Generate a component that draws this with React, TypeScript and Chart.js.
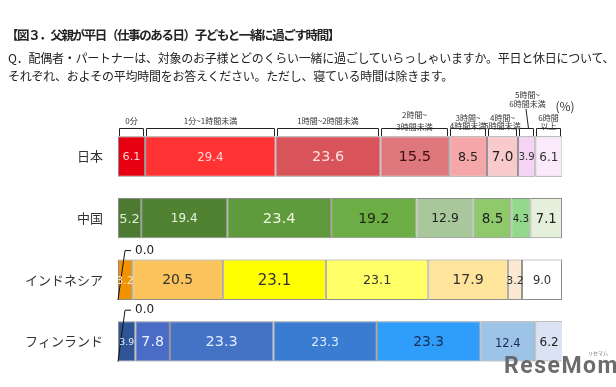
import React, { useEffect, useRef } from "react";
import { Chart, registerables } from "chart.js";
Chart.register(...registerables);

const countries = ["日本", "中国", "インドネシア", "フィンランド"];
const bandNames = ["0分", "1分~1時間未満", "1時間~2時間未満", "2時間~3時間未満", "3時間~4時間未満", "4時間~5時間未満", "5時間~6時間未満", "6時間以上"];
const band0 = [6.1, 5.2, 0.0, 0.0];
const band1 = [29.4, 19.4, 3.2, 3.9];
const band2 = [23.6, 23.4, 20.5, 7.8];
const band3 = [15.5, 19.2, 23.1, 23.3];
const band4 = [8.5, 12.9, 23.1, 23.3];
const band5 = [7.0, 8.5, 17.9, 23.3];
const band6 = [3.9, 4.3, 3.2, 12.4];
const band7 = [6.1, 7.1, 9.0, 6.2];
const bands = [band0, band1, band2, band3, band4, band5, band6, band7];

const headerLines = [["0分"], ["1分~1時間未満"], ["1時間~2時間未満"], ["2時間~", "3時間未満"], ["3時間~", "4時間未満"], ["4時間~", "5時間未満"], ["5時間~", "6時間未満"], ["6時間", "以上"]];

// styles: [country][band]
const fillColors = [
  ["#E60012", "#FF3333", "#D9545A", "#DF787D", "#F4A6A8", "#F8CACB", "#F5D3F3", "#FBEAFB"],
  ["#4B7A30", "#4F8332", "#5F9A3C", "#6CAE45", "#A8C89B", "#90C86C", "#93D88C", "#E4EFDC"],
  ["#F39200", "#F39200", "#FBC35B", "#FFFF00", "#FFFF66", "#FFE49C", "#FCE9D2", "#FFFFFF"],
  ["#2F5597", "#2F5597", "#4A6BC6", "#4472C4", "#3B7CD3", "#2E9EFA", "#9DC3E6", "#DAE3F3"],
];
const textColors = [
  ["#F8D0D0", "#FFD6D6", "#FFE0E0", "#3A1010", "#222", "#222", "#333", "#333"],
  ["#E0F0D0", "#E8F4E0", "#F0F8E0", "#1C2A10", "#222", "#222", "#222", "#222"],
  ["#333", "#FDE8C8", "#333", "#333", "#333", "#333", "#333", "#333"],
  ["#E0E8F8", "#E0E8F8", "#E8F0FF", "#E0ECFF", "#E0ECFF", "#1B2A50", "#1B2A50", "#222"],
];
const textSizes = [
  [11.3, 11.7, 14.4, 14.7, 12.6, 13.6, 10, 12],
  [13, 12, 14.7, 14, 12.4, 13.6, 10.3, 13.2],
  [11, 11, 13.9, 15, 12.7, 14.2, 11, 11.5],
  [9.4, 9.4, 14.2, 14.5, 12.4, 13.8, 11.5, 12],
];

const labelPlugin = {
  id: "customLabels",
  afterDatasetsDraw(chart: any) {
    const ctx = chart.ctx;
    ctx.save();
    chart.data.datasets.forEach((ds: any, i: number) => {
      const meta = chart.getDatasetMeta(i);
      meta.data.forEach((el: any, j: number) => {
        const v = ds.data[j];
        const p = el.getProps(["x", "y", "base", "height"], true);
        if (v > 0) {
          ctx.font = `${textSizes[j][i]}px "DejaVu Sans"`;
          ctx.fillStyle = textColors[j][i];
          ctx.textAlign = "center";
          ctx.textBaseline = "middle";
          const dy = j === 3 && i === 6 ? 3 : 1;
          ctx.fillText(v.toFixed(1), (p.x + p.base) / 2, p.y + dy);
        } else {
          const top = p.y - p.height / 2;
          const bottom = p.y + p.height / 2;
          const ty = top - 9 - (j === 3 ? 2 : 0);
          ctx.strokeStyle = "#111";
          ctx.lineWidth = 1;
          ctx.beginPath();
          ctx.moveTo(p.base + 13, ty);
          ctx.lineTo(p.base + 7, ty);
          ctx.lineTo(p.base, bottom);
          ctx.stroke();
          ctx.font = `12px "DejaVu Sans"`;
          ctx.fillStyle = "#222";
          ctx.textAlign = "left";
          ctx.textBaseline = "middle";
          ctx.fillText(v.toFixed(1), p.base + 17, ty);
        }
      });
    });
    // headers from the first category (日本)
    ctx.strokeStyle = "#222";
    ctx.lineWidth = 1;
    ctx.fillStyle = "#333";
    ctx.font = `8px "Noto Sans CJK JP"`;
    ctx.textAlign = "center";
    ctx.textBaseline = "middle";
    chart.data.datasets.forEach((ds: any, i: number) => {
      const el = chart.getDatasetMeta(i).data[0];
      const p = el.getProps(["x", "y", "base", "height"], true);
      const barTop = Math.round(p.y - p.height / 2);
      const x0 = Math.round(p.base) + 1.5;
      const x1 = Math.round(p.x) - 1.5;
      const bt = barTop - 7.5;
      ctx.beginPath();
      ctx.moveTo(x0, barTop);
      ctx.lineTo(x0, bt);
      ctx.lineTo(x1, bt);
      ctx.lineTo(x1, barTop);
      ctx.stroke();
      const cx = (x0 + x1) / 2;
      const lines = headerLines[i];
      if (lines.length === 1) {
        ctx.fillText(lines[0], cx, barTop - 15);
      } else if (i === 6) {
        ctx.fillText(lines[0], cx + 1, barTop - 41);
        ctx.fillText(lines[1], cx + 1, barTop - 32);
        ctx.beginPath();
        ctx.moveTo(cx - 0.5, barTop - 27);
        ctx.lineTo(cx + 2, bt);
        ctx.stroke();
      } else if (i === 3) {
        ctx.fillText(lines[0], cx, barTop - 21);
        ctx.fillText(lines[1], cx, barTop - 9.5);
      } else {
        ctx.fillText(lines[0], cx, barTop - 18.5);
        ctx.fillText(lines[1], cx, barTop - 10.5);
      }
    });
    ctx.font = `12px "Noto Sans CJK JP"`;
    ctx.fillStyle = "#333";
    ctx.fillText("(%)", 565, 106);
    // watermark
    ctx.font = `bold 23px Roboto`;
    ctx.fillStyle = "rgba(95,95,95,0.92)";
    ctx.textAlign = "left";
    ctx.textBaseline = "alphabetic";
    try { (ctx as any).letterSpacing = "1.5px"; } catch (e) {}
    ctx.fillText("ReseMom", 504, 373);
    try { (ctx as any).letterSpacing = "0px"; } catch (e) {}
    ctx.font = `5px "Noto Sans CJK JP"`;
    ctx.fillText("リセマム", 588, 355);
    ctx.restore();
  },
};

export default function App() {
  const ref = useRef<HTMLCanvasElement | null>(null);
  useEffect(() => {
    if (!ref.current) return;
    const datasets = bands.map((b, i) => ({
      label: bandNames[i],
      data: b,
      backgroundColor: fillColors.map((c) => c[i]),
      borderColor: "#8c8c8c",
      borderWidth: 1,
      borderSkipped: false,
      barPercentage: 0.655,
      categoryPercentage: 1.0,
    }));
    const chart = new Chart(ref.current, {
      type: "bar",
      data: { labels: countries, datasets },
      options: {
        indexAxis: "y",
        animation: false,
        responsive: false,
        maintainAspectRatio: false,
        layout: { padding: { top: 125.7, bottom: 10.5, right: 54, left: 0 } },
        plugins: { legend: { display: false }, tooltip: { enabled: false }, title: { display: false } },
        scales: {
          x: { stacked: true, min: 0, max: 100, display: false },
          y: {
            stacked: true,
            grid: { display: false },
            border: { display: false },
            ticks: { font: { family: '"Noto Sans CJK JP"', size: 13 }, color: "#333", padding: 7 },
            afterFit: (s: any) => {
              s.width = 118;
            },
          },
        },
      } as any,
      plugins: [labelPlugin],
    });
    return () => chart.destroy();
  }, []);
  return (
    <div style={{ position: "fixed", left: 0, top: 0, width: 616, height: 387, background: "#fff" }}>
      <canvas ref={ref} width={616} height={387} style={{ position: "absolute", left: 0, top: 0, display: "block" }} />
      <div
        style={{
          position: "absolute",
          left: 6,
          top: 26,
          fontFamily: '"Noto Sans CJK JP"',
          fontWeight: "bold",
          fontSize: 12.5,
          letterSpacing: -1.4,
          lineHeight: "18px",
          color: "#222",
          whiteSpace: "nowrap",
        }}
      >
        【図３．父親が平日（仕事のある日）子どもと一緒に過ごす時間】
      </div>
      <div
        style={{
          position: "absolute",
          left: 8,
          top: 49,
          fontFamily: '"Noto Sans CJK JP"',
          fontSize: 12,
          letterSpacing: -0.25,
          lineHeight: "18px",
          color: "#222",
          whiteSpace: "nowrap",
        }}
      >
        <div>Q．配偶者・パートナーは、対象のお子様とどのくらい一緒に過ごしていらっしゃいますか。平日と休日について、</div>
        <div>それぞれ、およその平均時間をお答えください。ただし、寝ている時間は除きます。</div>
      </div>
    </div>
  );
}
